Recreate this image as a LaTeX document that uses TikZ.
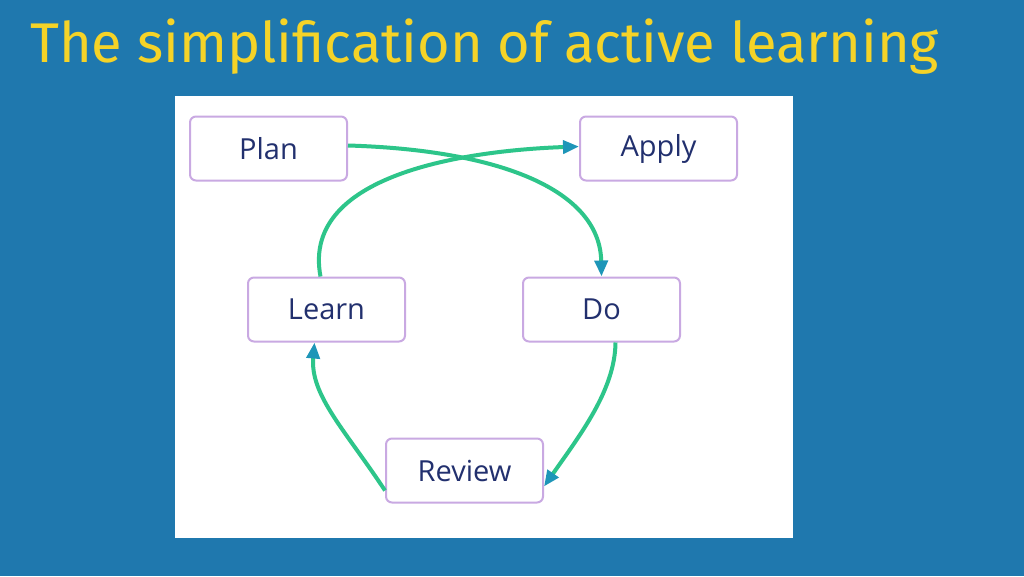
\documentclass[tikz,border=0pt]{standalone}
\usepackage{fontspec}
\setmainfont{Fira Sans}
\newfontfamily\boxfont{Open Sans}
\usetikzlibrary{arrows.meta}
\definecolor{bg}{HTML}{1F78AE}
\definecolor{ttl}{HTML}{F5D327}
\definecolor{bx}{HTML}{C9A9E2}
\definecolor{txt}{HTML}{22306E}
\definecolor{grn}{HTML}{2DC58A}
\definecolor{tip}{HTML}{1E96B8}
\begin{document}
\begin{tikzpicture}[x=1pt,y=-1pt,
  stage/.style={draw=bx,line width=2pt,rounded corners=6pt,fill=white,minimum width=157pt,minimum height=64pt,inner sep=0pt,font=\boxfont\fontsize{29}{32}\selectfont,text=txt},
  flow/.style={draw=grn,line width=4pt,-{Triangle[length=16pt,width=13pt,color=tip]}}]
\fill[bg] (0,0) rectangle (1024,576);
\useasboundingbox (0,0) rectangle (1024,576);
\node[anchor=west,text=ttl,font=\fontsize{56}{60}\selectfont,inner sep=0pt] (title) at (30,47) {The simplification of active learning};
\fill[white] (175,96) rectangle (793,538);
\node[stage] (plan) at (268.5,148.5) {Plan};
\node[stage] (apply) at (658.5,148.5) {Apply};
\node[stage] (learn) at (326.5,309.5) {Learn};
\node[stage] (do) at (601.5,309.5) {Do};
\node[stage] (review) at (464.5,470.5) {Review};
\draw[flow] ([yshift=3pt]plan.east) .. controls (500,150) and (600,190) .. (do.north);
\draw[flow] ([xshift=-6pt]learn.north) .. controls (300,170) and (480,150) .. ([yshift=2pt]apply.west);
\draw[flow] ([xshift=14pt]do.south) .. controls (615,390) and (580,435) .. ([yshift=-16pt]review.east);
\draw[flow] ([yshift=-20pt]review.west) .. controls (345,430) and (310,395) .. ([xshift=-12pt]learn.south);
\end{tikzpicture}
\end{document}
